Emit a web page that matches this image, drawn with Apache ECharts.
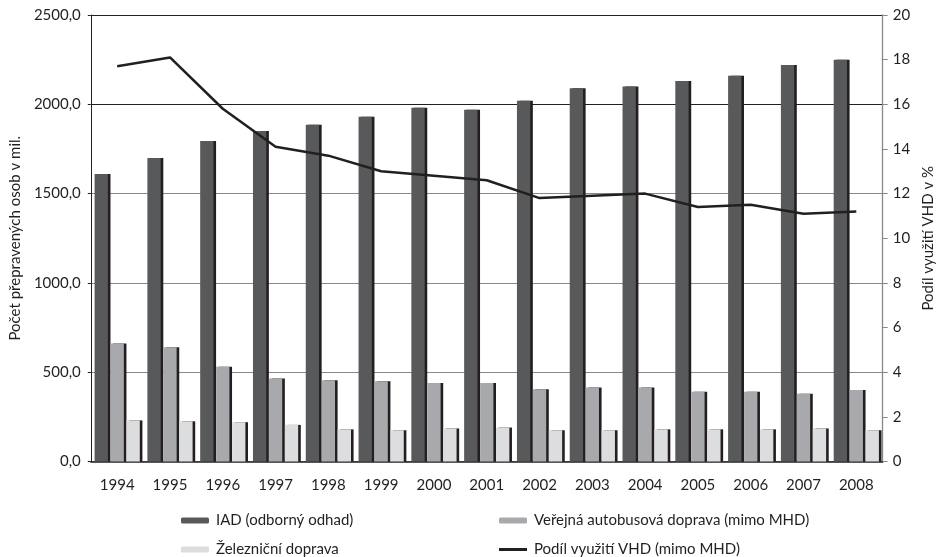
<!DOCTYPE html>
<html><head><meta charset="utf-8">
<script src="https://cdn.jsdelivr.net/npm/echarts@6/dist/echarts.min.js"></script>
<style>html,body{margin:0;padding:0;background:#fff}#c{width:944px;height:557px}</style>
</head><body><div id="c"></div>
<script>
const years = ['1994','1995','1996','1997','1998','1999','2000','2001','2002','2003','2004','2005','2006','2007','2008'];
const iad = [1610,1700,1795,1850,1885,1930,1980,1970,2020,2090,2100,2130,2160,2220,2250];
const bus = [660,640,530,465,455,450,440,440,405,415,415,390,390,380,400];
const rail = [230,225,220,205,180,175,185,190,175,175,180,180,180,185,175];
const share = [17.7,18.1,15.8,14.1,13.7,13.0,12.8,12.6,11.8,11.9,12.0,11.4,11.5,11.1,11.2];
const names = ['IAD (odborný odhad)','Veřejná autobusová doprava (mimo MHD)','Železniční doprava','Podíl využití VHD (mimo MHD)'];
const leftName = 'Počet přepravených osob v mil.';
const rightName = 'Podíl využití VHD v %';

const FONT = 'Lato';
const TXT = '#231f20';
const FS = 15;
const shadow = {shadowColor:'#231f20', shadowOffsetX:2.6, shadowOffsetY:0, shadowBlur:0};
function leg(name, left, top, h) {
  return {orient:'horizontal', left:left, top:top, itemWidth:28, itemHeight:h, itemGap:0,
    padding:0, textStyle:{fontFamily:FONT, fontSize:FS, color:TXT, padding:[0,0,0,2]}, data:[name]};
}
const chart = echarts.init(document.getElementById('c'), null, {renderer:'canvas'});
chart.setOption({
  animation:false,
  textStyle:{fontFamily:FONT},
  grid:{left:88, right:51, top:15, bottom:95.5},
  legend:[
    leg(names[0], 181, 513, 6),
    leg(names[2], 181, 542, 6),
    leg(names[1], 499, 513, 6),
    {orient:'horizontal', left:499, top:542, itemWidth:28, itemHeight:3, itemGap:0, padding:0,
     textStyle:{fontFamily:FONT, fontSize:FS, color:TXT, padding:[0,0,0,2]},
     data:[{name:names[3], icon:'rect'}]}
  ],
  xAxis:{type:'category', data:years,
    axisLine:{lineStyle:{color:'#231f20', width:1.5}},
    axisTick:{show:false},
    axisLabel:{color:TXT, fontSize:FS, fontFamily:FONT, margin:16}},
  yAxis:[
    {type:'value', min:0, max:2500, interval:500, name:leftName, nameLocation:'middle', nameGap:63,
     nameTextStyle:{color:TXT, fontSize:FS, fontFamily:FONT},
     axisLine:{show:true, lineStyle:{color:'#231f20', width:1}},
     axisTick:{show:true, length:3, lineStyle:{color:'#231f20'}},
     axisLabel:{color:TXT, fontSize:FS, fontFamily:FONT, margin:10, formatter:v=>v.toFixed(1).replace('.',',')},
     splitLine:{show:true, lineStyle:{color:['#888','#888','#888','#888','#231f20','#231f20'], width:1.2}}},
    {type:'value', min:0, max:20, interval:2, name:rightName, nameLocation:'middle', nameGap:36,
     nameTextStyle:{color:TXT, fontSize:FS, fontFamily:FONT},
     axisLine:{show:true, lineStyle:{color:'#888', width:1.3}},
     axisTick:{show:true, length:5, lineStyle:{color:'#888'}},
     axisLabel:{color:TXT, fontSize:FS, fontFamily:FONT, margin:10},
     splitLine:{show:false}}
  ],
  series:[
    {name:names[0], type:'bar', data:iad, barWidth:13.3, barGap:'20%', itemStyle:Object.assign({color:'#58595b'}, shadow)},
    {name:names[1], type:'bar', data:bus, barWidth:13.3, barGap:'20%', itemStyle:Object.assign({color:'#a7a9ac'}, shadow)},
    {name:names[2], type:'bar', data:rail, barWidth:13.3, barGap:'20%', itemStyle:Object.assign({color:'#dcddde'}, shadow)},
    {name:names[3], type:'line', yAxisIndex:1, data:share, symbol:'none', z:5,
     lineStyle:{color:'#231f20', width:2.5}, itemStyle:{color:'#231f20'}}
  ]
});
</script></body></html>
